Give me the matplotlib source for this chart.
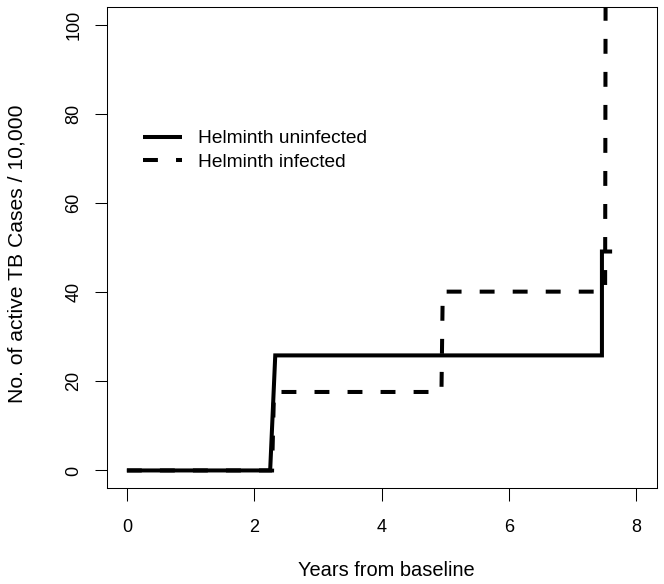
import matplotlib
matplotlib.use('Agg')
import matplotlib.pyplot as plt

plt.rcParams['font.family'] = ['Liberation Sans', 'DejaVu Sans']

# step curves (years, cases per 10,000)
uninf_years = [0, 2.25, 2.33, 7.46, 7.46, 7.62]
uninf_cases = [0, 0, 25.8, 25.8, 49.1, 49.1]

inf_years = [0, 2.28, 2.31, 4.94, 4.96, 7.51, 7.52]
inf_cases = [0, 0, 17.6, 17.6, 40.1, 40.1, 130]

x_ticks = [0, 2, 4, 6, 8]
y_ticks = [0, 20, 40, 60, 80, 100]

fig = plt.figure(figsize=(6.64, 5.84), dpi=100)
ax = fig.add_axes([0.1604, 0.1639, 0.8286, 0.8246])

ax.plot(uninf_years, uninf_cases, color='black', lw=2.9,
        solid_capstyle='butt', solid_joinstyle='miter', label='Helminth uninfected')
ax.plot(inf_years, inf_cases, color='black', lw=2.9, linestyle=(0, (3.7, 4.5)),
        dash_capstyle='butt', dash_joinstyle='miter', label='Helminth infected')

ax.set_xlim(-0.32, 8.32)
ax.set_ylim(-4, 104)
ax.set_xticks(x_ticks)
ax.set_yticks(y_ticks)
ax.tick_params(axis='both', direction='out', length=9, width=0.75, labelsize=13)
ax.tick_params(axis='x', pad=13)
ax.tick_params(axis='y', pad=8.4)
for lab in ax.get_yticklabels():
    lab.set_rotation(90)
    lab.set_va('center')
for sp in ax.spines.values():
    sp.set_linewidth(0.75)

ax.set_xlabel('Years from baseline', fontsize=14.4)
ax.set_ylabel('No. of active TB Cases / 10,000', fontsize=15.2)
ax.xaxis.set_label_coords(0.508, -0.151)
ax.yaxis.set_label_coords(-0.146, 0.4865)

ax.legend(loc='upper left', bbox_to_anchor=(0.066, 0.744), frameon=False,
          fontsize=13.8, borderpad=0, borderaxespad=0, handlelength=2.03,
          handletextpad=0.83, labelspacing=0.3)

fig.savefig('out.png', dpi=100)
